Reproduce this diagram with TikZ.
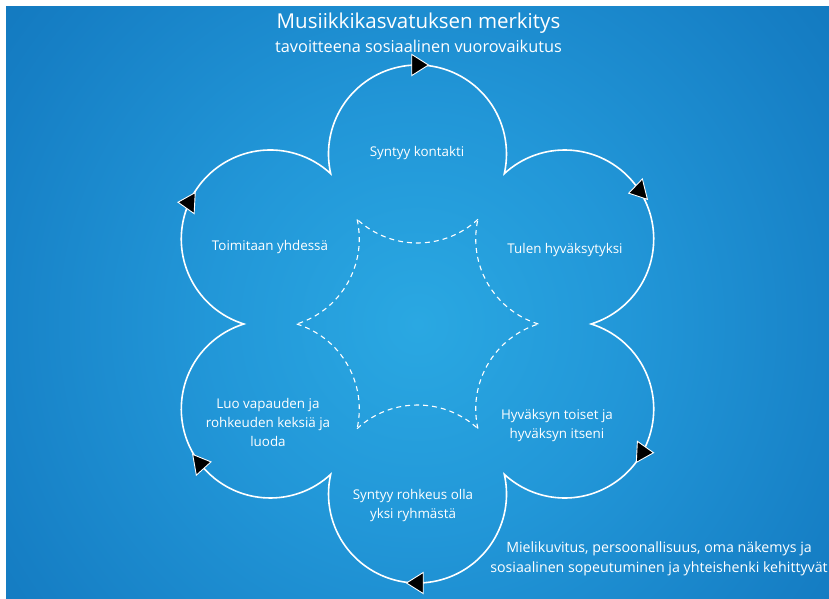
\documentclass[tikz,border=0pt]{standalone}
\usepackage{fontspec}
\setmainfont{Open Sans}
\usetikzlibrary{calc}
\definecolor{bgA}{RGB}{42,168,226}
\definecolor{bgB}{RGB}{34,151,216}
\definecolor{bgC}{RGB}{22,127,197}
\definecolor{bgD}{RGB}{13,111,181}
\definecolor{bgE}{RGB}{10,105,175}
\definecolor{bgF}{RGB}{9,102,171}
\pgfdeclareradialshading{bgshade}{\pgfpoint{0bp}{0bp}}{color(0bp)=(bgA); color(10bp)=(bgB); color(22bp)=(bgC); color(32bp)=(bgD); color(42bp)=(bgE); color(52bp)=(bgF); color(75bp)=(bgF)}
\tikzset{
  petal/.style={draw=white, line width=1.6pt},
  dashline/.style={draw=white, line width=1.1pt, dash pattern=on 5pt off 4pt},
  tri/.style={fill=black, draw=white, line width=0.9pt, line join=miter},
  lbl/.style={text=white, font=\fontsize{13.4}{19}\selectfont, align=center, inner sep=0pt},
}
\newcommand\arrowtri[2]{%
  \filldraw[tri] ($(#1)+(#2:11)$) -- ($(#1)+({#2+118.5}:12)$) -- ($(#1)+({#2-118.5}:12)$) -- cycle;}
\begin{document}
\begin{tikzpicture}[x=1pt,y=-1pt]
\useasboundingbox (0,0) rectangle (829,599);
\fill[white] (0,0) rectangle (829,599);
\begin{scope}
  \clip (6,7) rectangle (829,599);
  \shade[shading=bgshade] (-102.5,-196) rectangle (937.5,844);
\end{scope}
\coordinate (O) at (417.5,324);
\foreach \n/\a in {1/-90,2/-30,3/30,4/90,5/150,6/210}
  \coordinate (c\n) at ($(O)+(\a:170)$);
% outer petals
\draw[petal] ($(c1)+(-192.76:89)$)
  arc[start angle=-192.76,end angle=12.76,radius=89]
  arc[start angle=-132.76,end angle=72.76,radius=89]
  arc[start angle=-72.76,end angle=132.76,radius=89]
  arc[start angle=-12.76,end angle=192.76,radius=89]
  arc[start angle=47.24,end angle=252.76,radius=89]
  arc[start angle=107.24,end angle=312.76,radius=89] -- cycle;
% inner dashed star
\foreach \n/\a in {1/-90,2/-30,3/30,4/90,5/150,6/210}
  \draw[dashline] ($(c\n)+({\a+137.25}:89)$) arc[start angle={\a+137.25},end angle={\a+222.75},radius=89];
% arrowheads
\coordinate (a1) at ($(c1)+(-90:89)$);
\coordinate (a2) at ($(c2)+(-33:89)$);
\coordinate (a3) at ($(c3)+(29:89)$);
\coordinate (a4) at ($(c4)+(90:89)$);
\coordinate (a5) at ($(c5)+(142:89)$);
\coordinate (a6) at ($(c6)+(204:89)$);
\arrowtri{a1}{0}
\arrowtri{a2}{166}
\arrowtri{a3}{3}
\arrowtri{a4}{180}
\arrowtri{a5}{-10}
\arrowtri{a6}{183}
% texts
\node[lbl, font=\fontsize{20.5}{22}\selectfont] (title) at (418.5,23) {Musiikkikasvatuksen merkitys};
\node[lbl, font=\fontsize{16.3}{19}\selectfont] (sub) at (418.5,46) {tavoitteena sosiaalinen vuorovaikutus};
\node[lbl] (t1) at (417,153.5) {Syntyy kontakti};
\node[lbl] (t2) at (565,250.5) {Tulen hyväksytyksi};
\node[lbl] (t3) at (557,426) {Hyväksyn toiset ja\\hyväksyn itseni};
\node[lbl] (t4) at (413,506) {Syntyy rohkeus olla\\yksi ryhmästä};
\node[lbl] (t5) at (268,422) {Luo vapauden ja\\rohkeuden keksiä ja\\luoda};
\node[lbl] (t6) at (270,247) {Toimitaan yhdessä};
\node[lbl, font=\fontsize{14.2}{20}\selectfont] (t7) at (659,558.5) {Mielikuvitus, persoonallisuus, oma näkemys ja\\sosiaalinen sopeutuminen ja yhteishenki kehittyvät};
\end{tikzpicture}
\end{document}
